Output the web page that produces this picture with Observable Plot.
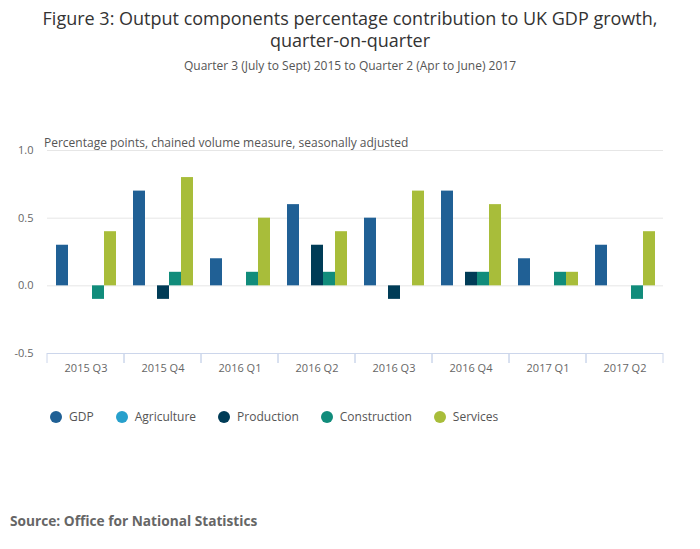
<!DOCTYPE html>
<html>
<head>
<meta charset="utf-8">
<script src="https://cdn.jsdelivr.net/npm/d3@7"></script>
<script src="https://cdn.jsdelivr.net/npm/@observablehq/plot@0.6"></script>
<style>
  body { margin: 0; width: 700px; height: 549px; position: relative; background: #fff; font-family: "Open Sans", sans-serif; overflow: hidden; }
  #title { position: absolute; top: 7px; left: 0; width: 700px; text-align: center; font-size: 18px; line-height: 22px; color: #333; }
  #subtitle { position: absolute; top: 57px; left: 0; width: 700px; text-align: center; font-size: 12px; line-height: 18px; color: #555; }
  #unit { position: absolute; top: 134px; left: 44px; font-size: 12px; line-height: 18px; color: #555; }
  #chart { position: absolute; top: 100px; left: 0; }
  #legend { position: absolute; top: 408px; left: 50px; display: flex; font-size: 12px; line-height: 18px; color: #555; }
  #legend .item { display: flex; align-items: center; margin-right: 22px; }
  #legend .sw { width: 12px; height: 12px; border-radius: 50%; margin-right: 7px; }
  #source { position: absolute; top: 512px; left: 10px; font-size: 13.7px; line-height: 18px; font-weight: bold; color: #666; }
</style>
</head>
<body>
<div id="title">Figure 3: Output components percentage contribution to UK GDP growth,<br>quarter-on-quarter</div>
<div id="subtitle">Quarter 3 (July to Sept) 2015 to Quarter 2 (Apr to June) 2017</div>
<div id="unit">Percentage points, chained volume measure, seasonally adjusted</div>
<div id="chart"></div>
<div id="legend"></div>
<div id="source">Source: Office for National Statistics</div>
<script>
const quarters = ["2015 Q3", "2015 Q4", "2016 Q1", "2016 Q2", "2016 Q3", "2016 Q4", "2017 Q1", "2017 Q2"];
const series = ["GDP", "Agriculture", "Production", "Construction", "Services"];
const colors = ["#206095", "#27a0cc", "#003c57", "#118c7b", "#a8bd3a"];
const gdp          = [0.3, 0.7, 0.2, 0.6, 0.5, 0.7, 0.2, 0.3];
const agriculture  = [0.0, 0.0, 0.0, 0.0, 0.0, 0.0, 0.0, 0.0];
const production   = [0.0, -0.1, 0.0, 0.3, -0.1, 0.1, 0.0, 0.0];
const construction = [-0.1, 0.1, 0.1, 0.1, 0.0, 0.1, 0.1, -0.1];
const services     = [0.4, 0.8, 0.5, 0.4, 0.7, 0.6, 0.1, 0.4];
const yTicks = [-0.5, 0, 0.5, 1.0];
const gridTicks = [0, 0.5, 1.0];

const valuesBySeries = [gdp, agriculture, production, construction, services];
const data = [];
quarters.forEach((q, i) => {
  series.forEach((s, j) => data.push({quarter: q, series: s, value: valuesBySeries[j][i]}));
});

function separators(index, scales) {
  const x = scales.x, y = scales.y;
  const [x0, x1] = x.range();
  const yb = y(-0.5);
  const g = d3.create("svg:g").attr("stroke", "#ccd6eb").attr("stroke-width", 1);
  for (const xv of [x0, x1]) {
    g.append("line").attr("x1", xv).attr("x2", xv).attr("y1", yb).attr("y2", yb + 10);
  }
  return g.node();
}

const chart = Plot.plot({
  width: 700,
  height: 280,
  marginTop: 50,
  marginBottom: 27,
  marginLeft: 44,
  marginRight: 35,
  style: {fontFamily: "Open Sans, sans-serif", fontSize: "11px", color: "#666", background: "transparent"},
  fx: {domain: quarters, padding: 0, axis: "bottom", tickSize: 0, tickPadding: 11, label: null},
  x: {domain: series, axis: null, paddingInner: 0, paddingOuter: 0.65},
  y: {domain: [-0.5, 1], ticks: yTicks, tickFormat: d => d.toFixed(1), tickSize: 0, tickPadding: 14, label: null, grid: false},
  color: {domain: series, range: colors},
  marks: [
    Plot.ruleY(gridTicks, {stroke: "#e6e6e6"}),
    Plot.barY(data, {fx: "quarter", x: "series", y: "value", fill: "series"}),
    Plot.ruleY([-0.5], {stroke: "#ccd6eb"}),
    separators
  ]
});
document.getElementById("chart").appendChild(chart);

const legend = d3.select("#legend");
series.forEach((s, i) => {
  const item = legend.append("div").attr("class", "item");
  item.append("div").attr("class", "sw").style("background", colors[i]);
  item.append("span").text(s);
});
</script>
</body>
</html>
